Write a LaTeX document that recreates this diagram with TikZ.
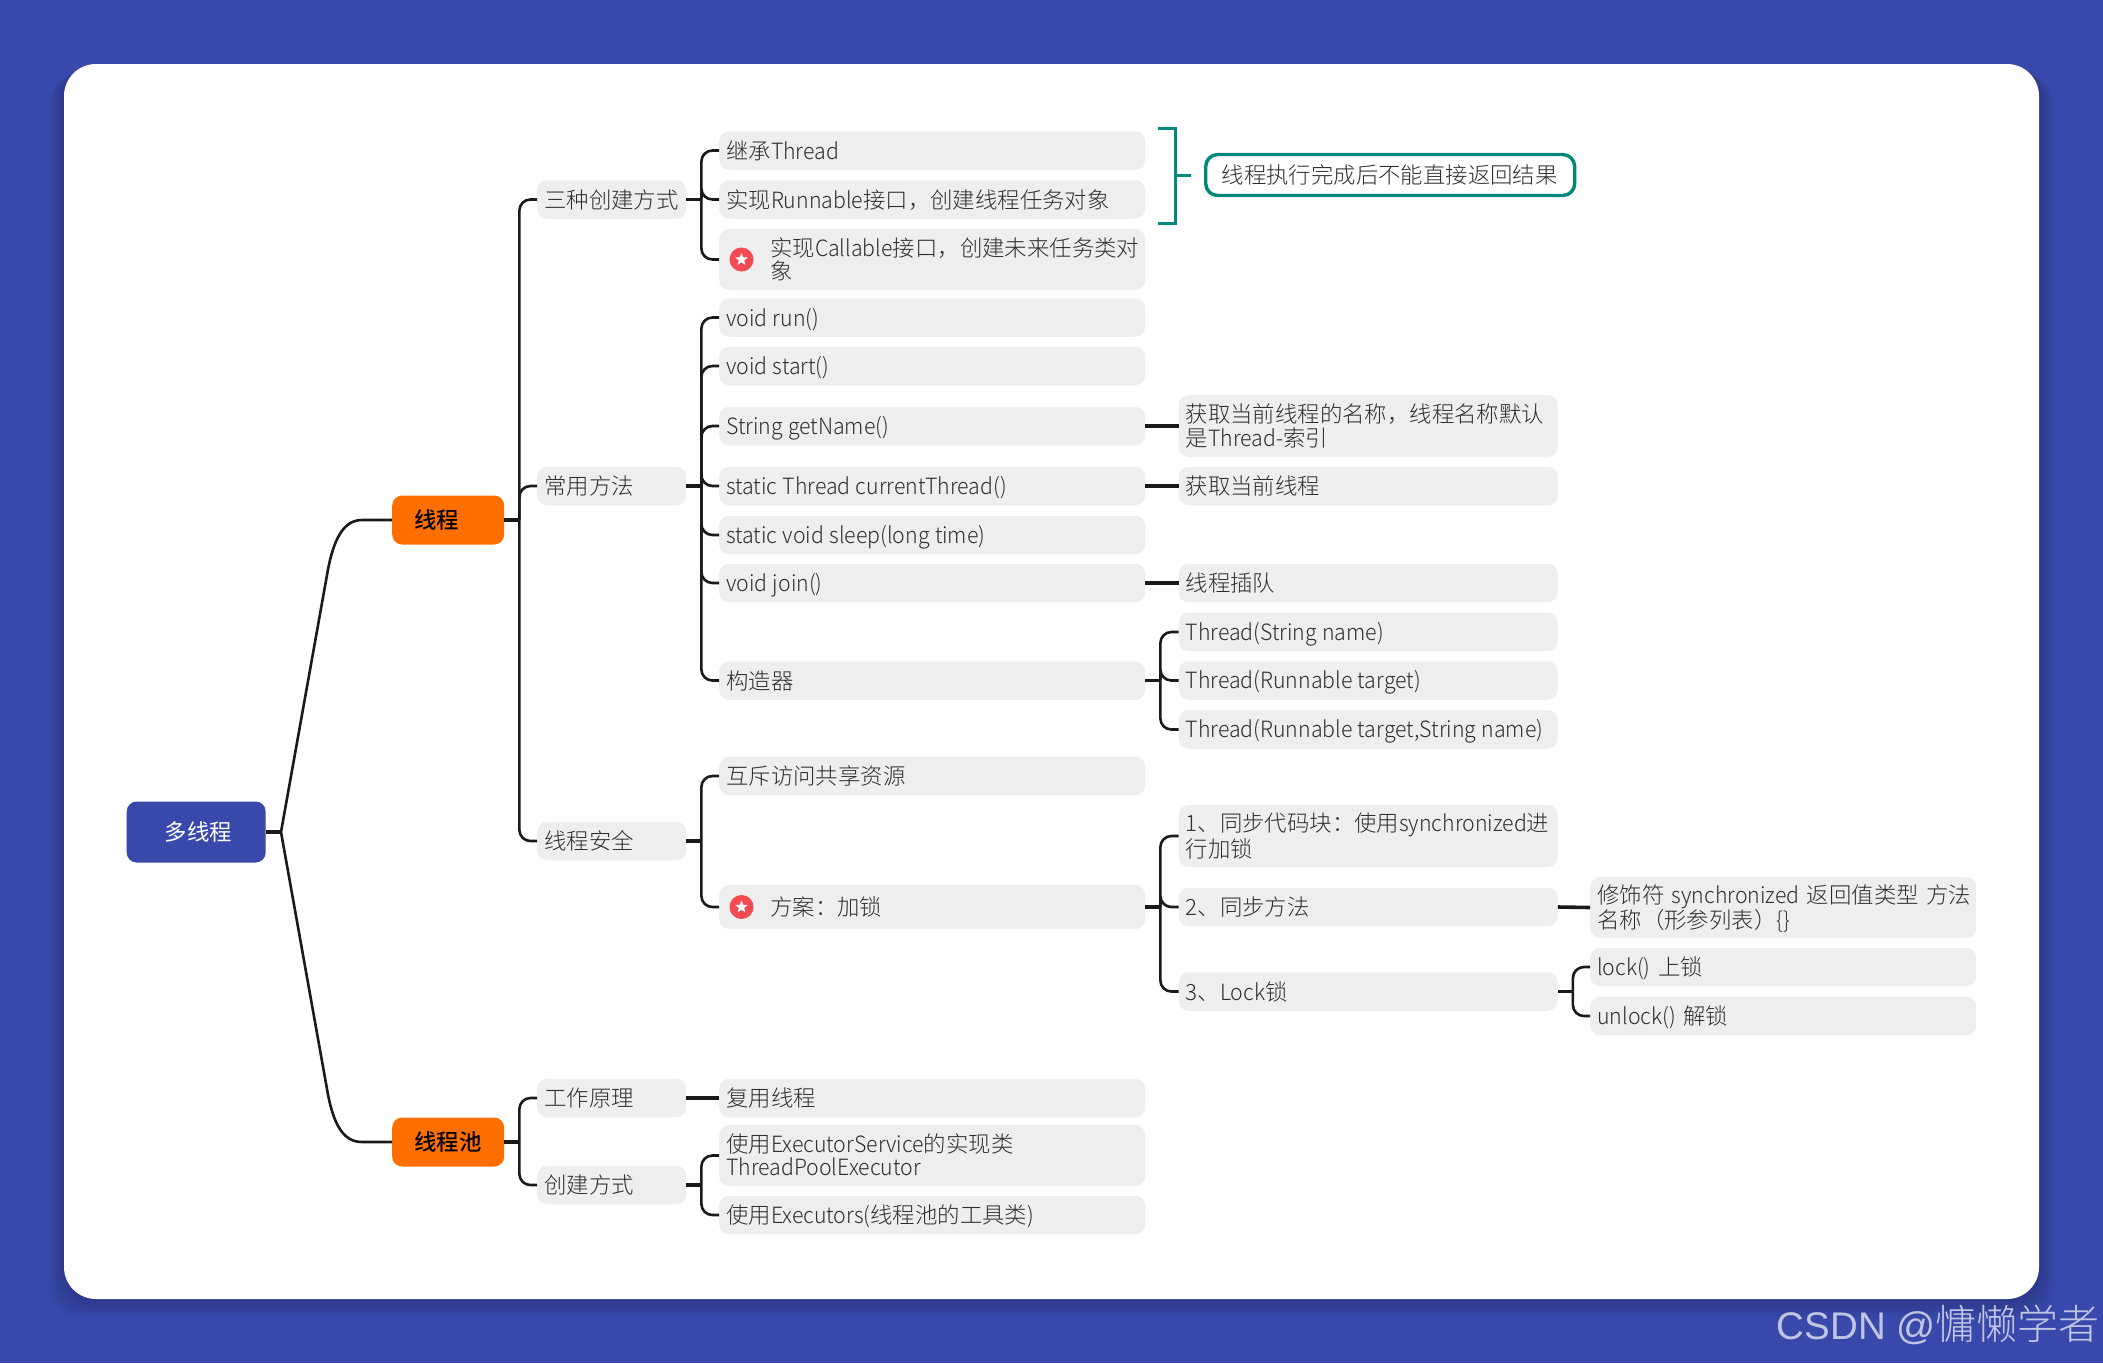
\documentclass[tikz,border=0pt]{standalone}
\usepackage{fontspec}
\setmainfont{Noto Sans CJK SC}[UprightFont=* Light,BoldFont=* Medium]
\newfontfamily\latfont{Noto Sans CJK SC}[UprightFont=* Light,FakeStretch=0.95]
\newfontfamily\regfont{Noto Sans CJK SC}
\newfontfamily\markfont{Liberation Sans}
\usetikzlibrary{calc,shapes.geometric}
\definecolor{pageblue}{HTML}{3949AB}
\definecolor{boxgray}{HTML}{EEEEEE}
\definecolor{mainorange}{HTML}{FF6F00}
\definecolor{noteteal}{HTML}{00897B}
\definecolor{iconred}{HTML}{F44B52}
\definecolor{linkcol}{HTML}{1A1A1A}
\definecolor{textcol}{HTML}{2E2E2E}
\tikzset{
  boxbase/.style={anchor=west,rounded corners=10,inner xsep=7,inner ysep=0,minimum height=38.5,
                  align=left,text=textcol,font=\fontsize{22.4}{23.5}\selectfont,
                  execute at begin node={\rule{0pt}{22pt}},
                  execute at end node={\rule[-5pt]{0pt}{5pt}}},
  leafone/.style={boxbase,fill=boxgray,text width=135},
  leaftwo/.style={boxbase,fill=boxgray,text width=412},
  leafthree/.style={boxbase,fill=boxgray,text width=365},
  leaffour/.style={boxbase,fill=boxgray,text width=372},
  mainbox/.style={boxbase,fill=mainorange,text=black,text width=68,inner xsep=22,minimum height=49,font=\fontsize{22.4}{23.5}\selectfont\bfseries},
  rootbox/.style={boxbase,fill=pageblue,text=white,text width=63,inner xsep=38,minimum height=61,font=\fontsize{22.4}{23.5}\selectfont\regfont},
  notebox/.style={boxbase,draw=noteteal,line width=3.4,fill=white,rounded corners=12,text width=337,inner xsep=16,minimum height=41},
  staricon/.style={circle,fill=iconred,inner sep=0,minimum size=24},
  starmark/.style={star,star points=5,star point ratio=2.3,fill=white,inner sep=0,minimum size=13},
  link/.style={draw=linkcol,line width=2.6,rounded corners=11},
  stub/.style={draw=linkcol,line width=3.6},
  noteline/.style={draw=noteteal,line width=3}
}
\newcommand\branch[2]{
  \draw[stub] (#1.east) -- ++(15,0) coordinate (tmpB);
  \foreach \c in {#2} \draw[link] (tmpB) |- (\c.west);
}
\newcommand\iconpad{\hspace*{44pt}}
\newcommand\lat[1]{{\latfont\spaceskip=0.24em #1}}
\begin{document}
\begin{tikzpicture}[x=1pt,y=-1pt]
  % BACKGROUND
  \fill[pageblue] (0,0) rectangle (2103,1363);
  \foreach \s in {4,8,...,32}
    \fill[black,opacity=0.018,rounded corners=34] (64-\s*0.5,64+\s*0.3) rectangle (2039+\s*0.5,1299+\s*0.6);
  \fill[white,rounded corners=32] (64,64) rectangle (2039,1299);

  % ROOT AND MAIN TOPICS
  \node[rootbox] (root) at (126.5,832) {多线程};
  \node[mainbox] (thread) at (392,520) {线程};
  \node[mainbox] (pool) at (392,1142) {线程池};

  % FIRST LEVEL
  \node[leafone] (create) at (537,199.5) {三种创建方式};
  \node[leafone] (method) at (537,486) {常用方法};
  \node[leafone] (safe) at (537,841) {线程安全};
  \node[leafone] (work) at (537,1098) {工作原理};
  \node[leafone] (make) at (537,1185) {创建方式};

  % SECOND LEVEL
  \node[leaftwo] (extend) at (719,150.5) {继承\lat{Thread}};
  \node[leaftwo] (runnable) at (719,199.5) {实现\lat{Runnable}接口，创建线程任务对象};
  \node[leaftwo,minimum height=61] (callable) at (719,259.5) {\iconpad\mbox{实现\lat{Callable}接口，创建未来任务类对}\\\iconpad 象};
  \node[leaftwo] (run) at (719,317.5) {\lat{void run()}};
  \node[leaftwo] (start) at (719,366) {\lat{void start()}};
  \node[leaftwo] (getname) at (719,426) {\lat{String getName()}};
  \node[leaftwo] (current) at (719,486) {\lat{static Thread currentThread()}};
  \node[leaftwo] (sleep) at (719,535) {\lat{static void sleep(long time)}};
  \node[leaftwo] (join) at (719,583) {\lat{void join()}};
  \node[leaftwo] (ctor) at (719,680.5) {构造器};
  \node[leaftwo] (mutex) at (719,776) {互斥访问共享资源};
  \node[leaftwo,minimum height=44] (lock) at (719,907) {\iconpad 方案：加锁};
  \node[leaftwo] (reuse) at (719,1098) {复用线程};
  \node[leaftwo,minimum height=61] (service) at (719,1155.5) {使用\lat{ExecutorService}的实现类\\\lat{ThreadPoolExecutor}};
  \node[leaftwo] (executors) at (719,1215) {使用\lat{Executors(}线程池的工具类\lat{)}};

  % THIRD LEVEL
  \node[leafthree,minimum height=62] (namedesc) at (1178.5,426) {获取当前线程的名称，线程名称默认\\是\lat{Thread-}索引};
  \node[leafthree] (curdesc) at (1178.5,486) {获取当前线程};
  \node[leafthree] (joindesc) at (1178.5,583) {线程插队};
  \node[leafthree] (ctorone) at (1178.5,632) {\lat{Thread(String name)}};
  \node[leafthree] (ctortwo) at (1178.5,680.5) {\lat{Thread(Runnable target)}};
  \node[leafthree] (ctorthree) at (1178.5,729.5) {\lat{\mbox{Thread(Runnable target,String name)}}};
  \node[leafthree,minimum height=62] (syncblock) at (1178.5,836) {\mbox{1、同步代码块：使用\lat{synchronized}进}\\行加锁};
  \node[leafthree] (syncmethod) at (1178.5,907) {2、同步方法};
  \node[leafthree] (locklock) at (1178.5,991.5) {3、\lat{Lock}锁};

  % FOURTH LEVEL
  \node[leaffour,minimum height=61] (modifier) at (1590,907.5) {\mbox{修饰符 \lat{synchronized} 返回值类型 方法}\\名称（形参列表）\lat{\{\}}};
  \node[leaffour] (lockon) at (1590,967) {\lat{lock()} 上锁};
  \node[leaffour] (lockoff) at (1590,1016) {\lat{unlock()} 解锁};

  % NOTE
  \node[notebox] (note) at (1204,175) {线程执行完成后不能直接返回结果};
  \coordinate (noteT) at (1158,128);
  \coordinate (noteB) at (1158,223);
  \coordinate (noteM) at (1175,175);
  \coordinate (noteE) at (1191,175);
  \draw[noteline] (noteT) -- (1175,128) -- (1175,223) -- (noteB);
  \draw[noteline] (noteM) -- (noteE);

  % ICONS
  \node[staricon] (iconA) at (741.5,259.5) {};
  \node[starmark] at (iconA) {};
  \node[staricon] (iconB) at (741.5,907) {};
  \node[starmark] at (iconB) {};

  % CONNECTORS
  \coordinate (hub) at (281,832);
  \draw[stub] (root.east) -- (hub);
  \draw[link,rounded corners=0] (hub) -- (327,575) .. controls (333,540) and (343,520) .. (362,520) -- (thread.west);
  \draw[link,rounded corners=0] (hub) -- (327,1089) .. controls (333,1124) and (343,1142) .. (362,1142) -- (pool.west);
  \branch{thread}{create,method,safe}
  \branch{pool}{work,make}
  \branch{create}{extend,runnable,callable}
  \branch{method}{run,start,getname,current,sleep,join,ctor}
  \branch{safe}{mutex,lock}
  \branch{make}{service,executors}
  \branch{ctor}{ctorone,ctortwo,ctorthree}
  \branch{lock}{syncblock,syncmethod,locklock}
  \branch{locklock}{lockon,lockoff}
  \draw[stub] (work.east) -- (reuse.west);
  \draw[stub] (getname.east) -- (namedesc.west);
  \draw[stub] (current.east) -- (curdesc.west);
  \draw[stub] (join.east) -- (joindesc.west);
  \draw[stub] (syncmethod.east) -- (modifier.west);

  % WATERMARK
  \node[anchor=east,inner sep=0,text=white!68!pageblue,font=\fontsize{41}{41}\selectfont] (mark) at (2100,1325) {{\markfont\fontsize{38.5}{41}\selectfont CSDN @}慵懒学者};
\end{tikzpicture}
\end{document}
